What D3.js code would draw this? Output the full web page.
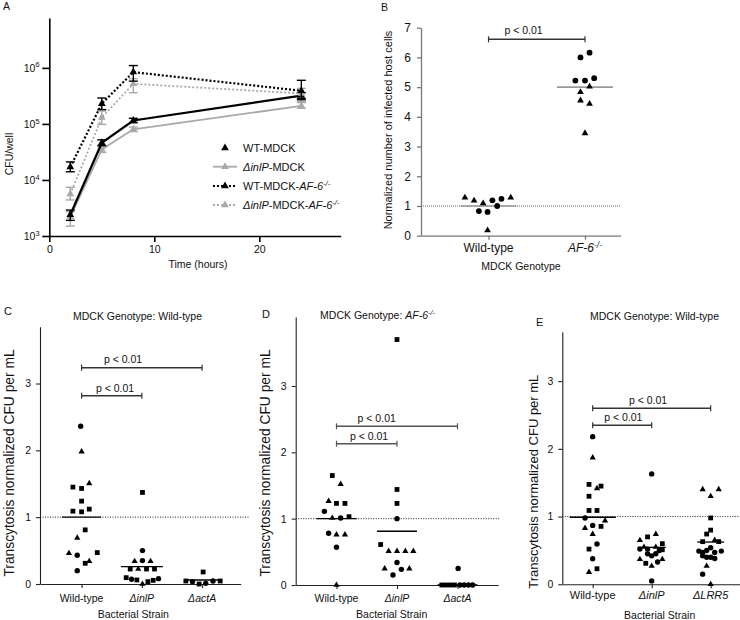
<!DOCTYPE html>
<html><head><meta charset="utf-8">
<script src="https://cdn.jsdelivr.net/npm/d3@7"></script>
<style>body{margin:0;background:#fff} svg{display:block}</style>
</head><body>
<svg id="chart" width="740" height="620"></svg>
<script>
// ---------------- DATA ----------------
// Panel A: CFU/well over time
const aTimeHours = [2, 5, 8, 24];
const aSeriesNames = ['WT-MDCK', 'ΔinlP-MDCK', 'WT-MDCK-AF-6-/-', 'ΔinlP-MDCK-AF-6-/-'];
const aWtMdck      = [2400, 46000, 115000, 320000];
const aWtMdckLow   = [1900, 41000, 105000, 285000];
const aWtMdckHigh  = [2900, 52000, 126000, 360000];
const aInlpMdck     = [2200, 35000, 80000, 210000];
const aInlpMdckLow  = [1500, 31000, 73000, 190000];
const aInlpMdckHigh = [2700, 39000, 88000, 240000];
const aWtAf6      = [17000, 230000, 840000, 390000];
const aWtAf6Low   = [14000, 180000, 580000, 270000];
const aWtAf6High  = [21000, 290000, 1100000, 600000];
const aInlpAf6     = [5600, 130000, 520000, 350000];
const aInlpAf6Low  = [4400, 98000, 360000, 250000];
const aInlpAf6High = [7400, 170000, 640000, 430000];
const aYTicks = [1e3, 1e4, 1e5, 1e6];
const aXTicks = [0, 10, 20];

// Panel B: normalized infected host cells; points are [jitter (category units), value, shape]
const bCategories = ['Wild-type', 'AF-6-/-'];
const bWildType = [[-0.245,1.28,'t'],[-0.15,1.18,'t'],[-0.056,1.09,'t'],[0.23,1.28,'t'],
  [-0.1,0.83,'c'],[-0.01,0.80,'c'],[0.04,1.19,'c'],[0.09,1.0,'c'],[0.134,1.24,'c'],[-0.01,0.18,'t']];
const bAf6 = [[-0.047,6.0,'c'],[0.047,6.16,'c'],[-0.1,5.22,'c'],[0,5.22,'c'],[0.095,5.30,'c'],
  [0.047,5.02,'t'],[-0.047,4.83,'t'],[-0.047,4.55,'t'],[0.047,4.44,'t'],[0,3.45,'t']];
const bMeans = [1.0, 5.0];
const bYTicks = [0,1,2,3,4,5,6,7];
const bComparisons = [['Wild-type','AF-6-/-','p < 0.01']];

// Panel C
const cCategories = ['Wild-type', 'ΔinlP', 'ΔactA'];
const cWildType = [[-0.015,2.36,'c'],[0,1.98,'t'],[0.127,1.505,'t'],[-0.144,1.45,'s'],[0,1.43,'s'],[0,1.24,'s'],
  [-0.144,1.09,'s'],[0,1.08,'s'],[0.127,1.12,'s'],[0.06,0.81,'s'],[-0.072,0.69,'t'],[-0.21,0.46,'t'],
  [-0.072,0.43,'c'],[0.26,0.47,'s'],[0.06,0.31,'s'],[0.127,0.34,'t'],[-0.072,0.20,'c']];
const cInlP = [[0.01,1.37,'s'],[0.01,0.50,'c'],[-0.12,0.34,'t'],[0.01,0.35,'c'],[0.144,0.34,'t'],
  [-0.193,0.224,'s'],[-0.06,0.224,'t'],[0.077,0.224,'s'],[0.21,0.224,'s'],[-0.26,0.095,'s'],
  [-0.171,0.07,'c'],[-0.083,0.06,'s'],[0.01,0.0,'t'],[0.1,0.035,'s'],[0.188,0.055,'s'],[0.276,0.08,'c']];
const cActA = [[0.017,0.18,'s'],[-0.27,0.045,'s'],[-0.16,0.035,'c'],[-0.05,0.0,'s'],[0.06,0.01,'c'],
  [0.18,0.045,'c'],[0.3,0.045,'s']];
const cMeans = [1.0, 0.26, 0.06];
const cComparisons = [['Wild-type','ΔinlP','p < 0.01'],['Wild-type','ΔactA','p < 0.01']];

// Panel D
const dCategories = ['Wild-type', 'ΔinlP', 'ΔactA'];
const dWildType = [[-0.069,1.65,'s'],[0.069,1.52,'t'],[-0.13,1.265,'t'],[0,1.23,'s'],[0.14,1.23,'s'],
  [-0.2,1.11,'c'],[-0.069,1.01,'t'],[0.069,1.01,'c'],[0.207,1.03,'s'],[-0.13,0.78,'c'],[0,0.76,'t'],
  [0.14,0.76,'t'],[0,0.57,'c'],[0,0.0,'t']];
const dInlP = [[0,3.70,'s'],[0,1.44,'s'],[0,1.23,'s'],[0,1.0,'c'],[-0.27,0.61,'s'],[-0.138,0.51,'t'],
  [0,0.51,'t'],[0.138,0.51,'t'],[0.27,0.51,'t'],[0,0.34,'c'],[-0.204,0.246,'t'],[0.072,0.236,'c'],
  [0.204,0.246,'t'],[-0.066,0.15,'c']];
const dActA = [[0.01,0.25,'c'],[-0.26,0,'s'],[-0.19,0,'s'],[-0.12,0,'s'],[-0.05,0,'s'],
  [0.04,0,'c'],[0.11,0,'c'],[0.18,0,'c'],[0.25,0,'c']];
const dMeans = [1.0, 0.81, 0.0];
const dComparisons = [['Wild-type','ΔinlP','p < 0.01'],['Wild-type','ΔactA','p < 0.01']];

// Panel E
const eCategories = ['Wild-type', 'ΔinlP', 'ΔLRR5'];
const eWildType = [[0,2.18,'c'],[0,1.87,'t'],[-0.062,1.475,'s'],[0.141,1.45,'s'],[0.073,1.415,'t'],
  [-0.062,1.30,'s'],[-0.062,1.09,'s'],[0.073,1.09,'s'],[-0.13,0.98,'c'],[-0.13,0.83,'t'],[0,0.87,'c'],
  [0.141,0.855,'s'],[0.21,0.94,'t'],[0,0.74,'t'],[0.073,0.594,'c'],[-0.062,0.52,'s'],[0,0.378,'c'],
  [0.073,0.23,'s'],[-0.062,0.18,'t']];
const eInlP = [[0,1.63,'c'],[-0.2,0.65,'t'],[-0.07,0.70,'s'],[0.07,0.74,'t'],[0.18,0.60,'s'],
  [-0.13,0.55,'t'],[-0.2,0.52,'c'],[-0.07,0.52,'c'],[0.07,0.55,'t'],[0.18,0.51,'s'],[0.13,0.50,'c'],
  [-0.07,0.45,'c'],[0,0.42,'c'],[0.07,0.45,'c'],[-0.2,0.37,'t'],[0.18,0.37,'t'],[-0.1,0.31,'s'],
  [0,0.27,'t'],[0.1,0.33,'c'],[0,0.05,'c']];
const eLrr5 = [[-0.136,1.40,'t'],[0.136,1.40,'t'],[0,1.30,'t'],[0,0.98,'s'],[0,0.80,'s'],[-0.068,0.742,'s'],
  [-0.136,0.63,'s'],[0.068,0.653,'t'],[0.136,0.63,'s'],[0,0.54,'c'],[-0.2,0.49,'c'],[-0.136,0.47,'c'],
  [-0.068,0.50,'c'],[0.068,0.47,'c'],[0.18,0.49,'c'],[-0.136,0.42,'c'],[-0.068,0.40,'c'],[0,0.40,'c'],
  [0.068,0.38,'c'],[-0.068,0.27,'t'],[-0.136,0.15,'c'],[0,0,'t']];
const eMeans = [0.99, 0.546, 0.624];
const eComparisons = [['Wild-type','ΔinlP','p < 0.01'],['Wild-type','ΔLRR5','p < 0.01']];

const scatterYTicks = [0,1,2,3];

// ---------------- DRAWING ----------------
const FONT = '"Liberation Sans", Arial, Helvetica, sans-serif';
const svg = d3.select('#chart').attr('font-family', FONT);

function rich(sel, label) {
  const parts = label.split(/(Δ[A-Za-z0-9]+|AF-6-\/-)/g).filter(s => s.length);
  parts.forEach(s => {
    if (s.startsWith('Δ')) sel.append('tspan').attr('font-style', 'italic').text(s);
    else if (s === 'AF-6-/-') {
      sel.append('tspan').attr('font-style', 'italic').text('AF-6');
      sel.append('tspan').attr('font-style', 'italic').attr('font-size', '70%').attr('dy', '-0.5em').text('-/-');
    } else sel.append('tspan').text(s);
  });
  return sel;
}
function txt(g, x, y, size, anchor) {
  return g.append('text').attr('x', x).attr('y', y).attr('font-size', size)
    .attr('text-anchor', anchor || 'start').attr('fill', '#111');
}
function vtxt(g, x, y, size, s) {
  return g.append('text').attr('transform', `translate(${x},${y}) rotate(-90)`)
    .attr('font-size', size).attr('text-anchor', 'middle').attr('fill', '#111').text(s);
}
function styleAxis(a, color, width, font) {
  a.attr('font-family', FONT);
  a.select('.domain').attr('stroke', color).attr('stroke-width', width);
  a.selectAll('.tick line').attr('stroke', color).attr('stroke-width', width);
  a.selectAll('.tick text').attr('font-size', font).attr('fill', '#111');
}

// ---- Panel A ----
(function () {
  const g = svg.append('g');
  const x = d3.scaleLinear().domain([0, 27.75]).range([49.3, 340.7]);
  const y = d3.scaleLog().domain([1e3, Math.pow(10, 6.89)]).range([236, 18]);
  const GRAY = '#a9a9a9';
  const ya = g.append('g').attr('transform', 'translate(49.3,0)')
    .call(d3.axisLeft(y).tickValues(aYTicks).tickSize(7).tickSizeOuter(0).tickFormat(''));
  const xa = g.append('g').attr('transform', 'translate(0,236)')
    .call(d3.axisBottom(x).tickValues(aXTicks).tickSize(6).tickSizeOuter(0).tickPadding(4));
  styleAxis(ya, '#000', 1.6, 10.5);
  styleAxis(xa, '#000', 1.6, 10.5);
  aYTicks.forEach(v => {
    const t = txt(g, 39.5, y(v) + 4, 10.5, 'end');
    t.append('tspan').text('10');
    t.append('tspan').attr('font-size', '70%').attr('dy', '-0.6em').text(Math.round(Math.log10(v)));
  });
  txt(g, 198, 268, 10.5, 'middle').text('Time (hours)');
  vtxt(g, 13, 154, 10.5, 'CFU/well');
  txt(g, 3, 10, 10.5).text('A');

  const series = [
    { m: aInlpMdck, lo: aInlpMdckLow, hi: aInlpMdckHigh, c: GRAY, dash: null, w: 1.8 },
    { m: aWtMdck, lo: aWtMdckLow, hi: aWtMdckHigh, c: '#000', dash: null, w: 2.2 },
    { m: aInlpAf6, lo: aInlpAf6Low, hi: aInlpAf6High, c: GRAY, dash: '2,2', w: 1.8 },
    { m: aWtAf6, lo: aWtAf6Low, hi: aWtAf6High, c: '#000', dash: '2,2', w: 2.2 }
  ];
  const line = d3.line().x((d, i) => x(aTimeHours[i])).y(d => y(d));
  const tri = d3.symbol().type(d3.symbolTriangle).size(26);
  series.forEach(s => {
    g.append('path').attr('d', line(s.m)).attr('fill', 'none').attr('stroke', s.c)
      .attr('stroke-width', s.w).attr('stroke-dasharray', s.dash);
    s.m.forEach((v, i) => {
      const cx = x(aTimeHours[i]);
      g.append('line').attr('x1', cx).attr('x2', cx).attr('y1', y(s.lo[i])).attr('y2', y(s.hi[i]))
        .attr('stroke', s.c).attr('stroke-width', 1.4);
      [s.lo[i], s.hi[i]].forEach(e => g.append('line').attr('x1', cx - 4.5).attr('x2', cx + 4.5)
        .attr('y1', y(e)).attr('y2', y(e)).attr('stroke', s.c).attr('stroke-width', 1.4));
      g.append('path').attr('d', tri).attr('transform', `translate(${cx},${y(v)})`).attr('fill', s.c);
    });
  });
  // legend
  const leg = [
    { c: '#000', dash: null, line: false },
    { c: GRAY, dash: null, line: true },
    { c: '#000', dash: '2,2', line: true },
    { c: GRAY, dash: '2,2', line: true }
  ];
  const rows = [148, 166.7, 186, 205];
  leg.forEach((l, i) => {
    const yy = rows[i];
    if (l.line) g.append('line').attr('x1', 213).attr('x2', 237).attr('y1', yy).attr('y2', yy)
      .attr('stroke', l.c).attr('stroke-width', 1.8).attr('stroke-dasharray', l.dash);
    g.append('path').attr('d', tri).attr('transform', `translate(225,${yy})`).attr('fill', l.c);
    rich(txt(g, 243, yy + 4, 11), aSeriesNames[i]);
  });
})();

// ---- generic scatter panel ----
function scatterPanel(p) {
  const g = svg.append('g');
  const x = d3.scaleLinear().domain(p.xDomain).range([p.left, p.right]);
  const y = d3.scaleLinear().domain([0, p.yMax]).range([p.bottom, p.top]);
  g.append('line').attr('x1', p.left).attr('x2', p.refEnd).attr('y1', y(1)).attr('y2', y(1))
    .attr('stroke', p.refColor).attr('stroke-width', p.refWidth).attr('stroke-dasharray', p.refDash);
  const ya = g.append('g').attr('transform', `translate(${p.left},0)`)
    .call(d3.axisLeft(y).tickValues(p.yTicks).tickSize(4).tickSizeOuter(0).tickPadding(p.yPad).tickFormat(d3.format('d')));
  const xa = g.append('g').attr('transform', `translate(0,${p.bottom})`)
    .call(d3.axisBottom(x).tickValues(p.categories.map((_, i) => i + 1)).tickSize(4).tickSizeOuter(0).tickFormat(''));
  styleAxis(ya, p.axisColor, p.axisWidth, p.yTickFont);
  styleAxis(xa, p.axisColor, p.axisWidth, p.yTickFont);
  p.categories.forEach((c, i) => rich(txt(g, x(i + 1), p.catY, p.catFont, 'middle'), c));
  // means
  p.means.forEach((m, i) => g.append('line').attr('x1', x(i + 1) - p.meanHalf[i]).attr('x2', x(i + 1) + p.meanHalf[i])
    .attr('y1', y(m)).attr('y2', y(m)).attr('stroke', p.meanColor).attr('stroke-width', p.meanWidth));
  // points
  const types = { t: d3.symbolTriangle, s: d3.symbolSquare, c: d3.symbolCircle };
  const sizes = { t: 17, s: 23, c: 23 };
  p.groups.forEach((grp, i) => grp.forEach(pt => {
    g.append('path').attr('d', d3.symbol().type(types[pt[2]]).size(sizes[pt[2]] * p.markScale))
      .attr('transform', `translate(${x(i + 1 + pt[0])},${y(pt[1])})`).attr('fill', '#000');
  }));
  // brackets
  p.comparisons.forEach((cmp, k) => {
    const b = p.brackets[k];
    const xa1 = x(p.categories.indexOf(cmp[0]) + 1), xb1 = x(p.categories.indexOf(cmp[1]) + 1);
    g.append('line').attr('x1', xa1).attr('x2', xb1).attr('y1', b.py).attr('y2', b.py)
      .attr('stroke', p.bracketColor).attr('stroke-width', 1.4);
    [xa1, xb1].forEach(xx => g.append('line').attr('x1', xx).attr('x2', xx).attr('y1', b.py - 3).attr('y2', b.py + 3)
      .attr('stroke', p.bracketColor).attr('stroke-width', 1.2));
    txt(g, b.tx, b.ty, p.pFont, 'middle').text(cmp[2]);
  });
  rich(txt(g, p.xTitle[0], p.xTitle[1], p.xTitleFont, 'middle'), p.xTitleText);
  vtxt(g, p.yTitle[0], p.yTitle[1], p.yTitleFont, p.yTitleText);
  if (p.title) rich(txt(g, p.title[0], p.title[1], p.titleFont, 'middle'), p.titleText);
  txt(g, p.letter[0], p.letter[1], p.letterFont).text(p.letterText);
}

// ---- Panel B ----
scatterPanel({
  left: 421, right: 620.7, bottom: 235.7, top: 27.7, xDomain: [0.3, 2.37], yMax: 7,
  yTicks: bYTicks, yPad: 6, yTickFont: 12, axisColor: '#777', axisWidth: 1.3,
  categories: bCategories, catY: 252, catFont: 12,
  refEnd: 620.7, refColor: '#b0b0b0', refWidth: 2, refDash: '1,1',
  means: bMeans, meanHalf: [28, 28], meanColor: '#999', meanWidth: 1.6,
  groups: [bWildType, bAf6], markScale: 1.15,
  comparisons: bComparisons, brackets: [{ py: 39.3, tx: 523.5, ty: 34 }], bracketColor: '#333', pFont: 10.5,
  xTitle: [521, 270], xTitleFont: 10.5, xTitleText: 'MDCK Genotype',
  yTitle: [392, 130], yTitleFont: 11, yTitleText: 'Normalized number of infected host cells',
  letter: [381, 11], letterFont: 10.5, letterText: 'B'
});

// ---- Panel C ----
scatterPanel({
  left: 40, right: 240.7, bottom: 584, top: 326.7, xDomain: [0.31, 3.64], yMax: 3.85,
  yTicks: scatterYTicks, yPad: 5, yTickFont: 10.5, axisColor: '#222', axisWidth: 1.1,
  categories: cCategories, catY: 602, catFont: 10.5,
  refEnd: 250, refColor: '#222', refWidth: 1, refDash: '1,1.5',
  means: cMeans, meanHalf: [19.5, 21, 16], meanColor: '#000', meanWidth: 1.3,
  groups: [cWildType, cInlP, cActA], markScale: 1,
  comparisons: cComparisons, brackets: [{ py: 395.7, tx: 115, ty: 391.5 }, { py: 367.7, tx: 123, ty: 362.5 }],
  bracketColor: '#333', pFont: 10.5,
  xTitle: [133.3, 618], xTitleFont: 10.5, xTitleText: 'Bacterial Strain',
  yTitle: [14, 463], yTitleFont: 13.8, yTitleText: 'Transcytosis normalized CFU per mL',
  title: [137.5, 320], titleFont: 10.5, titleText: 'MDCK Genotype: Wild-type',
  letter: [4, 315], letterFont: 11, letterText: 'C'
});

// ---- Panel D ----
scatterPanel({
  left: 295.7, right: 498.3, bottom: 585, top: 317, xDomain: [0.326, 3.674], yMax: 4.04,
  yTicks: scatterYTicks, yPad: 5, yTickFont: 10.5, axisColor: '#222', axisWidth: 1.1,
  categories: dCategories, catY: 602, catFont: 10.5,
  refEnd: 500, refColor: '#222', refWidth: 1, refDash: '1,1.5',
  means: dMeans, meanHalf: [20, 20, 20], meanColor: '#000', meanWidth: 1.3,
  groups: [dWildType, dInlP, dActA], markScale: 1,
  comparisons: dComparisons, brackets: [{ py: 443.7, tx: 369, ty: 439.5 }, { py: 426.3, tx: 376.7, ty: 421.5 }],
  bracketColor: '#555', pFont: 10.5,
  xTitle: [391.7, 618], xTitleFont: 10.5, xTitleText: 'Bacterial Strain',
  yTitle: [270, 463], yTitleFont: 13.8, yTitleText: 'Transcytosis normalized CFU per mL',
  title: [377.5, 319], titleFont: 10.5, titleText: 'MDCK Genotype: AF-6-/-',
  letter: [262, 318], letterFont: 11, letterText: 'D'
});

// ---- Panel E ----
scatterPanel({
  left: 562.3, right: 740, bottom: 584.3, top: 331.7, xDomain: [0.485, 3.497], yMax: 3.73,
  yTicks: scatterYTicks, yPad: 5, yTickFont: 10.5, axisColor: '#222', axisWidth: 1.1,
  categories: eCategories, catY: 599, catFont: 11,
  refEnd: 740, refColor: '#222', refWidth: 1, refDash: '1,1.5',
  means: eMeans, meanHalf: [23, 14, 13.5], meanColor: '#000', meanWidth: 1.3,
  groups: [eWildType, eInlP, eLrr5], markScale: 1,
  comparisons: eComparisons, brackets: [{ py: 425.3, tx: 623.3, ty: 421 }, { py: 408.3, tx: 648, ty: 404 }],
  bracketColor: '#333', pFont: 10.5,
  xTitle: [659.7, 618.5], xTitleFont: 10.5, xTitleText: 'Bacterial Strain',
  yTitle: [538, 481.7], yTitleFont: 13, yTitleText: 'Transcytosis normalized CFU per mL',
  title: [654.5, 320], titleFont: 10.5, titleText: 'MDCK Genotype: Wild-type',
  letter: [536, 326], letterFont: 11, letterText: 'E'
});
</script>
</body></html>
